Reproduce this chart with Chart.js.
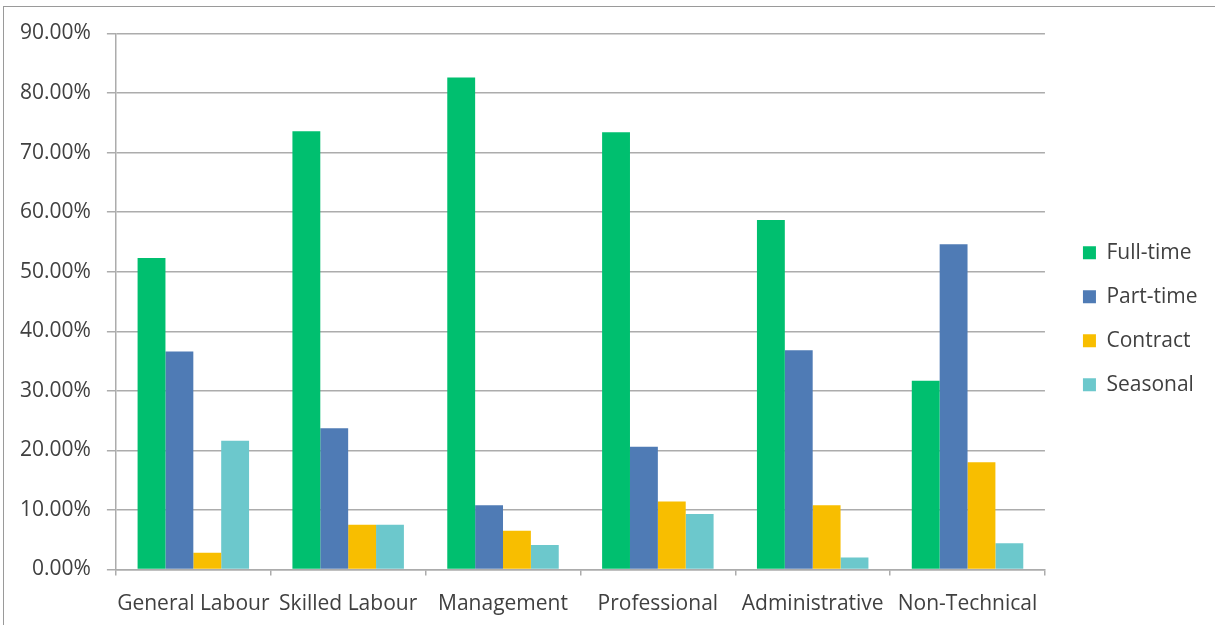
<!DOCTYPE html>
<html>
<head>
<meta charset="utf-8">
<script src="https://cdn.jsdelivr.net/npm/chart.js@4/dist/chart.umd.min.js"></script>
<style>
  html, body { margin: 0; padding: 0; background: #fff; }
  #wrap { position: relative; width: 1215px; height: 625px; overflow: hidden; }
  #frame { position: absolute; left: 3px; top: 6px; width: 1300px; height: 700px;
           border-top: 1px solid #9a9a9a; border-left: 1px solid #9a9a9a; }
  canvas { position: absolute; left: 0; top: 0; }
</style>
</head>
<body>
<div id="wrap">
  <div id="frame"></div>
  <canvas id="jobChart" width="1215" height="625"></canvas>
</div>
<script>
// Job types per sector (percent of respondents)
const categories = ['General Labour', 'Skilled Labour', 'Management', 'Professional', 'Administrative', 'Non-Technical'];
const seriesNames = ['Full-time', 'Part-time', 'Contract', 'Seasonal'];
const fullTime = [52.3, 73.6, 82.6, 73.4, 58.7, 31.7];
const partTime = [36.6, 23.7, 10.8, 20.6, 36.8, 54.6];
const contract = [2.8, 7.5, 6.5, 11.4, 10.8, 18.0];
const seasonal = [21.6, 7.5, 4.1, 9.3, 2.0, 4.4];
const yTicks = [0, 10, 20, 30, 40, 50, 60, 70, 80, 90];

const COLORS = ['#00bf6f', '#4f7bb5', '#f8be00', '#6cc8cc'];
const GRID = '#acacac';
const TEXT = '#404040';

Chart.defaults.font.family = "'Open Sans', sans-serif";
Chart.defaults.font.size = 21;
Chart.defaults.color = TEXT;

const values = [fullTime, partTime, contract, seasonal];

const chartData = {
    labels: categories,
    datasets: seriesNames.map((name, i) => ({
        label: name,
        data: values[i],
        backgroundColor: COLORS[i],
        borderWidth: 0,
        barPercentage: 1,
        categoryPercentage: 0.72
    }))
};

const chartOptions = {
    responsive: false,
    animation: false,
    layout: { padding: { top: 33.5, left: 4, right: 7.4, bottom: -6.7 } },
    plugins: {
        legend: {
            position: 'right',
            fullSize: false,
            // empty title only pushes the legend rows down a little
            title: { display: true, text: '', font: { size: 12 }, padding: 10 },
            labels: { boxWidth: 13, boxHeight: 13, padding: 23, color: TEXT }
        },
        tooltip: { enabled: false }
    },
    scales: {
        x: {
            grid: { drawOnChartArea: false, drawTicks: true, tickLength: 6, color: GRID, lineWidth: 1.5 },
            border: { color: GRID, width: 1.5 },
            ticks: { padding: 15.5, color: TEXT, maxRotation: 0, autoSkip: false }
        },
        y: {
            min: 0,
            max: 90,
            afterBuildTicks: scale => { scale.ticks = yTicks.map(v => ({ value: v })); },
            grid: { color: GRID, lineWidth: 1.5, tickLength: 9 },
            border: { color: GRID, width: 1.5 },
            ticks: { padding: 16, color: TEXT, callback: v => v.toFixed(2) + '%' }
        },
        // empty gap between the plot and the legend
        gap: {
            type: 'linear',
            position: 'right',
            grid: { display: false },
            ticks: { display: false },
            border: { display: false },
            afterFit: scale => { scale.width = 15; }
        }
    }
};

new Chart(document.getElementById('jobChart'), {
    type: 'bar',
    data: chartData,
    options: chartOptions
});
</script>
</body>
</html>
